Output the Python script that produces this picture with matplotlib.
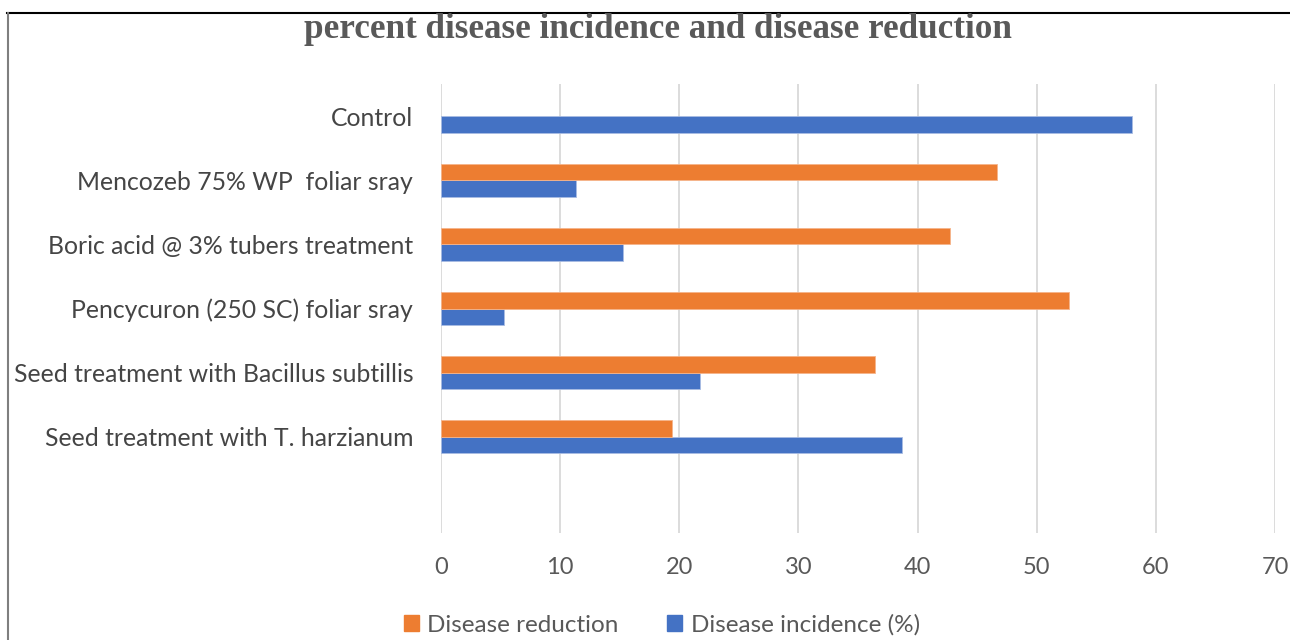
import matplotlib
matplotlib.use('Agg')
import matplotlib.pyplot as plt
from matplotlib.lines import Line2D
from matplotlib.patches import Patch
import numpy as np

treatments = [
    'Seed treatment with T. harzianum',
    'Seed treatment with Bacillus subtillis',
    'Pencycuron (250 SC) foliar sray',
    'Boric acid @ 3% tubers treatment',
    'Mencozeb 75% WP  foliar sray',
    'Control',
]
disease_incidence = [38.7, 21.7, 5.3, 15.3, 11.3, 58.0]
disease_reduction = [19.4, 36.4, 52.7, 42.7, 46.7, 0.0]
x_ticks = [0, 10, 20, 30, 40, 50, 60, 70]

blue = '#4472C4'
orange = '#ED7D31'
grey_text = '#595959'
font = 'Lato'

fig = plt.figure(figsize=(12.9, 6.4), dpi=100)
W, H = 1290, 640
ax = fig.add_axes([441 / W, 1 - 533 / H, (1275 - 441) / W, (533 - 84) / H])

y = np.arange(len(treatments))
h = 0.26
ax.barh(y - h / 2, disease_incidence, height=h, color=blue,
        edgecolor='#A9BCE3', linewidth=0.6, zorder=3)
ax.barh(y + h / 2, [v if v > 0 else np.nan for v in disease_reduction], height=h,
        color=orange, edgecolor='#F5B48A', linewidth=0.6, zorder=3)

ax.set_xlim(0, 70)
ax.set_ylim(-1.5, 5.5)
ax.set_xticks(x_ticks)
ax.set_xticklabels([str(t) for t in x_ticks], fontsize=17, color=grey_text, family=font)
ax.set_yticks(y)
ax.set_yticklabels(treatments, fontsize=17.8, color='#454545', family=font)
ax.tick_params(axis='both', length=0)
ax.tick_params(axis='x', pad=17)
ax.tick_params(axis='y', pad=20)
ax.xaxis.grid(True, color='#D9D9D9', linewidth=1.3, zorder=0)
for s in ax.spines.values():
    s.set_visible(False)

fig.text(658 / W, 1 - 29 / H, 'percent disease incidence and disease reduction',
         ha='center', va='center', fontsize=25.3, fontweight='bold',
         family='Liberation Serif', color=grey_text)

handles = [Patch(color=orange, label='Disease reduction'),
           Patch(color=blue, label='Disease incidence (%)')]
fig.legend(handles=handles, loc='center', bbox_to_anchor=(662 / W, 1 - 625 / H),
           ncol=2, frameon=False, prop={'family': font, 'size': 17.5},
           handlelength=0.6, handleheight=0.6, handletextpad=0.35,
           columnspacing=2.0, labelcolor=grey_text)

# chart frame edges
fig.add_artist(Line2D([7 / W, 1], [1 - 13 / H, 1 - 13 / H], color='black', linewidth=1.5))
fig.add_artist(Line2D([8 / W, 8 / W], [0, 1 - 13 / H], color='#7F7F7F', linewidth=1.5))

fig.savefig('out.png', dpi=100)
